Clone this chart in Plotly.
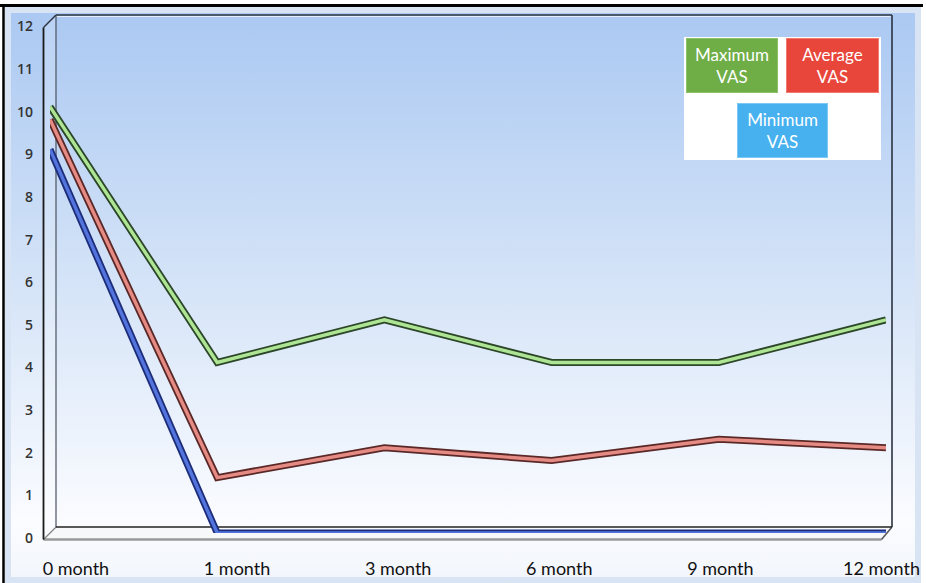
import base64
import plotly.graph_objects as go

# ---- data ----
months = ["0 month", "1 month", "3 month", "6 month", "9 month", "12 month"]
max_vas = [10, 4, 5, 4, 4, 5]
avg_vas = [9.7, 1.3, 2.0, 1.7, 2.2, 2.0]
min_vas = [9.0, 0, 0, 0, 0, 0]
y_ticks = list(range(0, 13))

W, H = 926, 583

def px(x):
    return x / W

def py(y):
    return 1 - y / H

# geometry of the pseudo-3D box (pixels)
BACK_L, BACK_R, BACK_T, BACK_B = 56, 892, 15, 527
FRONT_L, FRONT_T, FRONT_B, FRONT_R = 43.5, 27.5, 539.5, 881.5
MID_L, MID_R, MID_Y0, MID_Y12 = 50, 886, 533, 21.5

fig = go.Figure()

series = [
    ("Minimum VAS", min_vas, "#1d2d7a", "#5274dc"),
    ("Average VAS", avg_vas, "#5a2826", "#e68a84"),
    ("Maximum VAS", max_vas, "#2c4628", "#aee594"),
]
for name, vals, dark, light in series:
    fig.add_trace(go.Scatter(x=months, y=vals, mode="lines", name=name,
                             line=dict(color=dark, width=7), cliponaxis=False,
                             hoverinfo="skip", showlegend=False))
    fig.add_trace(go.Scatter(x=months, y=vals, mode="lines", name=name,
                             line=dict(color=light, width=3.4), cliponaxis=False,
                             showlegend=False))

# invisible trace carrying the category labels axis
fig.add_trace(go.Scatter(x=months, y=max_vas, xaxis="x2", yaxis="y", mode="lines",
                         line=dict(width=0), opacity=0, hoverinfo="skip", showlegend=False))

# gradient background as an svg image
svg = ('<svg xmlns="http://www.w3.org/2000/svg" width="100" height="100" viewBox="0 0 100 100" '
       'preserveAspectRatio="none"><defs><linearGradient id="g" x1="0" y1="0" x2="0" y2="1">'
       '<stop offset="0" stop-color="#aac8f2"/><stop offset="0.45" stop-color="#d2e2f7"/>'
       '<stop offset="0.9" stop-color="#fbfcff"/><stop offset="1" stop-color="#f1f5fb"/>'
       '</linearGradient></defs><rect width="100" height="100" fill="url(#g)"/></svg>')
src = "data:image/svg+xml;base64," + base64.b64encode(svg.encode()).decode()

images = [dict(source=src, xref="paper", yref="paper", x=px(5), y=py(7),
               sizex=px(921) - px(5), sizey=py(7) - py(583), xanchor="left", yanchor="top",
               sizing="stretch", layer="below")]

shapes = []
def line(x0, y0, x1, y1, color, width, layer="below"):
    shapes.append(dict(type="line", xref="paper", yref="paper", x0=px(x0), y0=py(y0),
                       x1=px(x1), y1=py(y1), line=dict(color=color, width=width), layer=layer))

# light inner frame strip
shapes.append(dict(type="rect", xref="paper", yref="paper", x0=px(8), y0=py(10), x1=px(918),
                   y1=py(580), line=dict(color="#d8e4f3", width=6), fillcolor="rgba(0,0,0,0)",
                   layer="below"))
# outer black border (top and left)
line(0, 5.5, 923, 5.5, "#000000", 3)
line(3.5, 4, 3.5, 583, "#000000", 2.5)

# floor slab
floor_path = (f"M {px(BACK_L)} {py(BACK_B)} L {px(BACK_R)} {py(BACK_B)} "
              f"L {px(FRONT_R)} {py(FRONT_B)} L {px(FRONT_L)} {py(FRONT_B)} Z")
shapes.append(dict(type="path", xref="paper", yref="paper", path=floor_path,
                   fillcolor="#f7f8fa", line=dict(width=0), layer="below"))
line(FRONT_L, FRONT_B, FRONT_R, FRONT_B, "#9a9a9a", 2.5)
line(BACK_R, BACK_B, FRONT_R, FRONT_B, "#555555", 1.5)
line(BACK_L, BACK_B, FRONT_L, FRONT_B, "#777777", 1.2)
# left wall face
wall_path = (f"M {px(BACK_L)} {py(BACK_T)} L {px(BACK_L)} {py(BACK_B)} "
             f"L {px(FRONT_L)} {py(FRONT_B)} L {px(FRONT_L)} {py(FRONT_T)} Z")
shapes.append(dict(type="path", xref="paper", yref="paper", path=wall_path,
                   fillcolor="rgba(255,255,255,0.18)", line=dict(width=0), layer="below"))
# back wall outline
line(BACK_L, BACK_T, BACK_R, BACK_T, "#2b3340", 1.6)
line(BACK_L, BACK_T + 1.5, BACK_R - 1.5, BACK_T + 1.5, "#e6eefb", 1)
line(BACK_R, BACK_T, BACK_R, BACK_B, "#2b3340", 1.6)
line(BACK_L, BACK_T, BACK_L, BACK_B, "#4a5260", 1.2)
line(BACK_L, BACK_B, BACK_R, BACK_B, "#222222", 1.6)
# left wall front edge and top diagonal
line(FRONT_L, FRONT_T, FRONT_L, FRONT_B, "#1a1a1a", 1.8)
line(FRONT_L, FRONT_T, BACK_L, BACK_T, "#2b3340", 1.4)

# legend box
shapes.append(dict(type="rect", xref="paper", yref="paper", x0=px(684), y0=py(37),
                   x1=px(881), y1=py(160), fillcolor="#ffffff", line=dict(width=0), layer="above"))

annotations = []
def badge(text, cx, cy, w, h, color, border):
    annotations.append(dict(text=text, xref="paper", yref="paper", x=px(cx), y=py(cy),
                            xanchor="center", yanchor="middle", showarrow=False,
                            width=w, height=h, bgcolor=color, bordercolor=border,
                            borderwidth=1, borderpad=0, align="center",
                            font=dict(family="Lato", size=17, color="#ffffff")))

badge("Maximum<br>VAS", 732, 66, 90, 53, "#6fad47", "#8cc36a")
badge("Average<br>VAS", 832.5, 66, 91, 53, "#e8453b", "#f07a70")
badge("Minimum<br>VAS", 782, 130, 89, 53, "#46b1ee", "#7ccaf4")

fig.update_layout(
    template="none",
    width=W, height=H,
    margin=dict(l=0, r=0, t=0, b=0, pad=0, autoexpand=False),
    paper_bgcolor="#ffffff",
    plot_bgcolor="rgba(0,0,0,0)",
    showlegend=False,
    images=images,
    shapes=shapes,
    annotations=annotations,
    xaxis=dict(domain=[px(MID_L), px(MID_R)], type="category", categoryorder="array",
               categoryarray=months, range=[0, 5], showticklabels=False, showgrid=False,
               zeroline=False, showline=False, ticks="", automargin=False),
    xaxis2=dict(domain=[px(75.9), px(881.5)], type="category", categoryorder="array",
                categoryarray=months, range=[0, 5], anchor="free", position=py(556),
                showgrid=False, zeroline=False, showline=False, ticks="", automargin=False,
                tickfont=dict(family="Lato", size=18, color="#111111")),
    yaxis=dict(domain=[py(MID_Y0), py(MID_Y12)], range=[0, 12], tickvals=y_ticks,
               showgrid=False, zeroline=False, showline=False, ticks="", automargin=False,
               ticklabelstandoff=16, ticklabelshift=5,
               tickfont=dict(family="Open Sans", size=14, color="#333333", weight=600)),
)

fig.write_html("out.html")
